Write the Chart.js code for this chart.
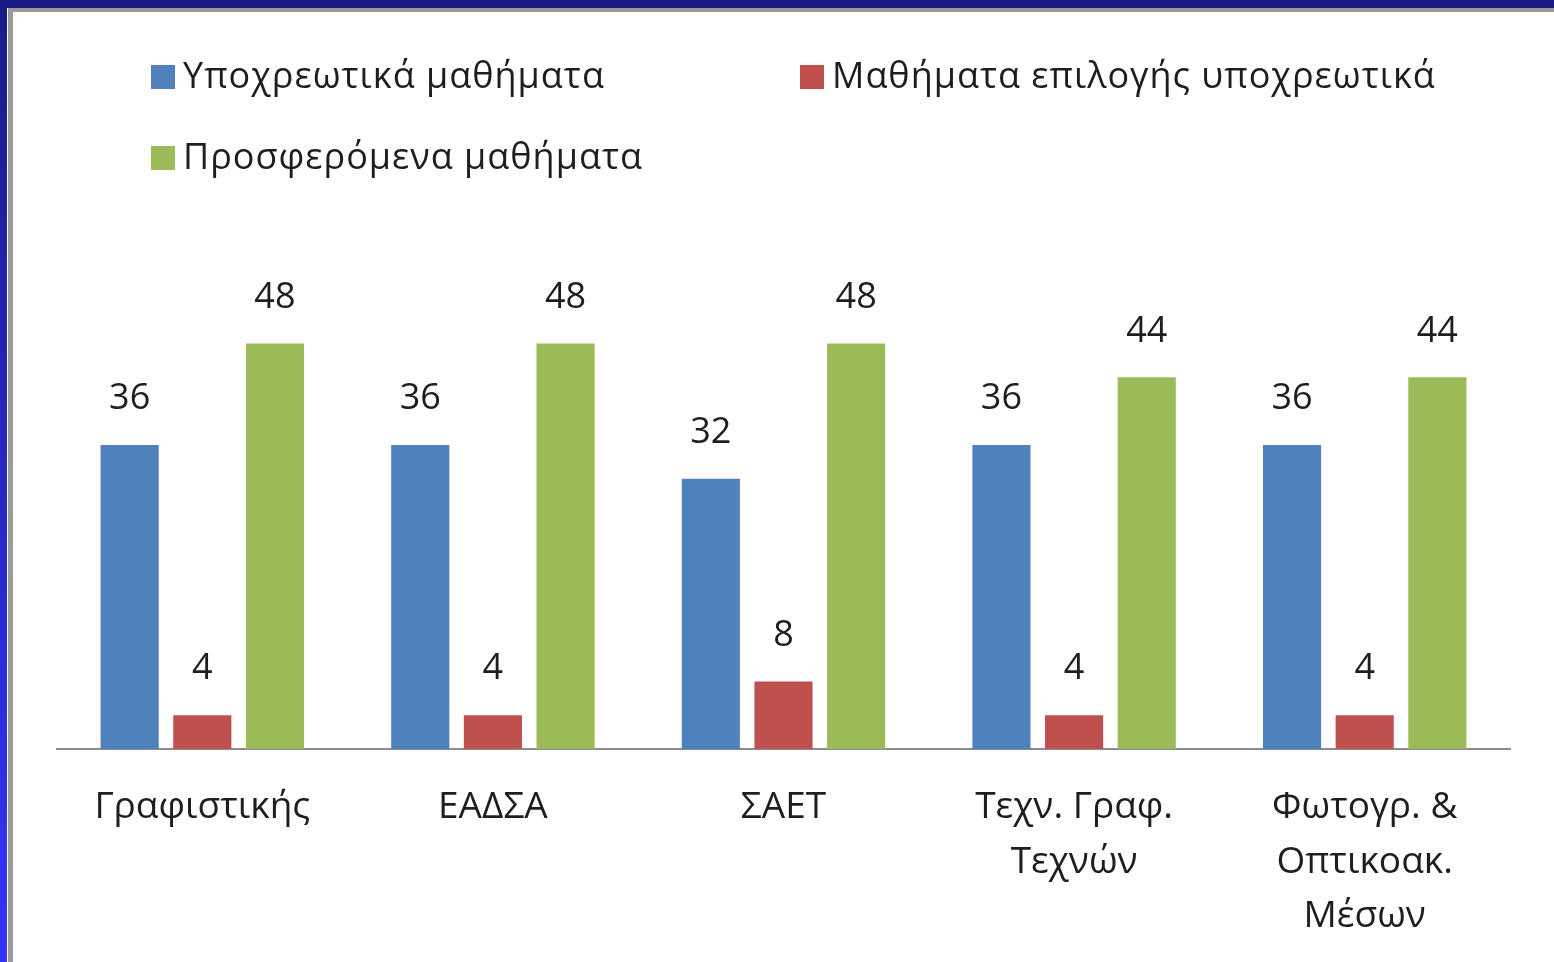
<!DOCTYPE html>
<html>
<head>
<meta charset="utf-8">
<script src="https://cdn.jsdelivr.net/npm/chart.js@4"></script>
<style>
  html, body { margin: 0; padding: 0; width: 1554px; height: 962px; overflow: hidden; }
  body { background: linear-gradient(to bottom, #1b1b86 0%, #2a2ad0 60%, #3434ff 100%); position: relative; }
  #sheet { position: absolute; left: 8px; top: 8px; right: 0; bottom: 0; background: #fff;
           border-left: 5px solid #9a9a9a; border-top: 4px solid #9a9a9a; box-shadow: -1px 0 0 #fff; }
  #wrap { position: absolute; left: 0; top: 0; width: 1554px; height: 962px; }
</style>
</head>
<body>
<div id="sheet"></div>
<div id="wrap"><canvas id="myChart" width="1554" height="962"></canvas></div>
<script>
const categories = [
  'Γραφιστικής',
  'ΕΑΔΣΑ',
  'ΣΑΕΤ',
  ['Τεχν. Γραφ.', 'Τεχνών'],
  ['Φωτογρ. &', 'Οπτικοακ.', 'Μέσων']
];
const seriesNames = ['Υποχρεωτικά μαθήματα', 'Μαθήματα επιλογής υποχρεωτικά', 'Προσφερόμενα μαθήματα'];
const compulsory = [36, 36, 32, 36, 36];
const electiveCompulsory = [4, 4, 8, 4, 4];
const offered = [48, 48, 48, 44, 44];
const colors = ['#4f81bd', '#c0504d', '#9bbb59'];

const FONT = '"Open Sans", "Noto Sans", sans-serif';
const TEXT = '#1e1e1e';

// legend laid out in two columns like the original
const legendGrid = {
  id: 'legendGrid',
  afterDraw(chart) {
    const ctx = chart.ctx;
    const slots = [[151, 77], [800, 77], [151, 158]];
    ctx.save();
    ctx.font = '36px ' + FONT;
    ctx.letterSpacing = '1px';
    ctx.textBaseline = 'middle';
    chart.data.datasets.forEach((ds, i) => {
      const [x, y] = slots[i];
      ctx.fillStyle = ds.backgroundColor;
      ctx.fillRect(x, y - 12, 24, 24);
      ctx.fillStyle = TEXT;
      ctx.fillText(ds.label, x + 32, y + 1);
    });
    ctx.restore();
  }
};

// value labels above each bar
const valueLabels = {
  id: 'valueLabels',
  afterDatasetsDraw(chart) {
    const ctx = chart.ctx;
    ctx.save();
    ctx.font = '36px ' + FONT;
    ctx.fillStyle = TEXT;
    ctx.textAlign = 'center';
    ctx.textBaseline = 'middle';
    chart.data.datasets.forEach((ds, i) => {
      chart.getDatasetMeta(i).data.forEach((bar, j) => {
        ctx.fillText(ds.data[j], bar.x, bar.y - 46);
      });
    });
    ctx.restore();
  }
};

const ctx = document.getElementById('myChart').getContext('2d');
const chart = new Chart(ctx, {
  type: 'bar',
  data: {
    labels: categories,
    datasets: [
      { label: seriesNames[0], data: compulsory, backgroundColor: colors[0] },
      { label: seriesNames[1], data: electiveCompulsory, backgroundColor: colors[1] },
      { label: seriesNames[2], data: offered, backgroundColor: colors[2] }
    ]
  },
  options: {
    responsive: false,
    animation: false,
    events: [],
    categoryPercentage: 0.75,
    barPercentage: 0.8,
    layout: {
      padding: { left: 57, right: 44, top: 276, bottom: -13 }
    },
    plugins: {
      legend: { display: false },
      tooltip: { enabled: false }
    },
    scales: {
      y: {
        display: false,
        min: 0,
        max: 56
      },
      x: {
        grid: { display: false, drawTicks: false },
        border: { display: true, color: '#8c8c8c', width: 2 },
        ticks: {
          color: TEXT,
          padding: 32,
          maxRotation: 0,
          autoSkip: false,
          font: { family: FONT, size: 37, lineHeight: 1.46 }
        }
      }
    }
  },
  plugins: [legendGrid, valueLabels]
});
</script>
</body>
</html>
